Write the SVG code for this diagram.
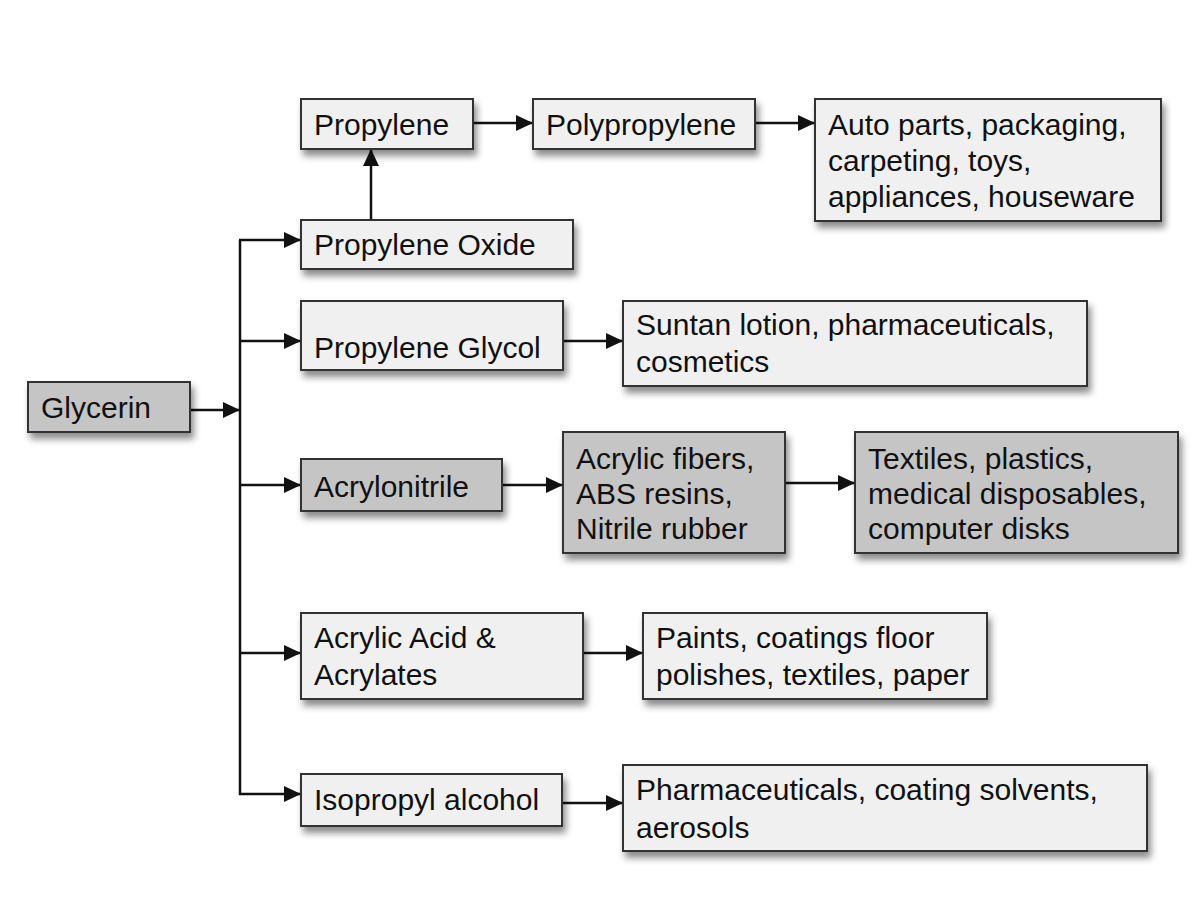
<svg xmlns="http://www.w3.org/2000/svg" width="1204" height="911" viewBox="0 0 1204 911">
<defs>
<filter id="sh" x="-10%" y="-20%" width="130%" height="160%">
<feDropShadow dx="3" dy="6" stdDeviation="3.5" flood-color="#000" flood-opacity="0.45"/>
</filter>
<marker id="ah" markerUnits="userSpaceOnUse" markerWidth="18" markerHeight="16" refX="17" refY="8" orient="auto">
<path d="M0,0 L17,8 L0,16 z" fill="#111"/>
</marker>
<style>
.lt{fill:#f0f0f0;stroke:#333;stroke-width:2;filter:url(#sh)}
.dk{fill:#c5c5c5;stroke:#333;stroke-width:2;filter:url(#sh)}
text{font-family:"Liberation Sans",Arial,sans-serif;font-size:30px;fill:#111}
.c{fill:none;stroke:#111;stroke-width:2.5}
</style>
</defs>
<rect width="1204" height="911" fill="#fff"/>
<g id="connectors">
<line class="c" x1="190" y1="410" x2="240" y2="410" marker-end="url(#ah)"/>
<line class="c" x1="240" y1="240" x2="240" y2="795"/>
<line class="c" x1="239" y1="240" x2="301" y2="240" marker-end="url(#ah)"/>
<line class="c" x1="239" y1="341" x2="301" y2="341" marker-end="url(#ah)"/>
<line class="c" x1="239" y1="485" x2="301" y2="485" marker-end="url(#ah)"/>
<line class="c" x1="239" y1="653" x2="301" y2="653" marker-end="url(#ah)"/>
<line class="c" x1="239" y1="794" x2="301" y2="794" marker-end="url(#ah)"/>
<line class="c" x1="371" y1="220" x2="371" y2="149" marker-end="url(#ah)"/>
<line class="c" x1="473" y1="123" x2="533" y2="123" marker-end="url(#ah)"/>
<line class="c" x1="755" y1="123" x2="815" y2="123" marker-end="url(#ah)"/>
<line class="c" x1="563" y1="341" x2="623" y2="341" marker-end="url(#ah)"/>
<line class="c" x1="502" y1="485" x2="563" y2="485" marker-end="url(#ah)"/>
<line class="c" x1="785" y1="483" x2="855" y2="483" marker-end="url(#ah)"/>
<line class="c" x1="583" y1="653" x2="643" y2="653" marker-end="url(#ah)"/>
<line class="c" x1="562" y1="803" x2="623" y2="803" marker-end="url(#ah)"/>
</g>
<g id="glycerin"><rect class="dk" x="28" y="382" width="162" height="50"/><text x="41" y="418">Glycerin</text></g>
<g id="propylene"><rect class="lt" x="301" y="99" width="172" height="50"/><text x="314" y="135">Propylene</text></g>
<g id="polypropylene"><rect class="lt" x="533" y="99" width="222" height="50"/><text x="546" y="135">Polypropylene</text></g>
<g id="autoparts"><rect class="lt" x="815" y="99" width="346" height="122"/><text x="828" y="135">Auto parts, packaging,</text><text x="828" y="171">carpeting, toys,</text><text x="828" y="207">appliances, houseware</text></g>
<g id="propylene-oxide"><rect class="lt" x="301" y="220" width="272" height="49"/><text x="314" y="255">Propylene Oxide</text></g>
<g id="propylene-glycol"><rect class="lt" x="301" y="301" width="262" height="69"/><text x="314" y="358">Propylene Glycol</text></g>
<g id="suntan"><rect class="lt" x="623" y="301" width="464" height="85"/><text x="636" y="335">Suntan lotion, pharmaceuticals,</text><text x="636" y="372">cosmetics</text></g>
<g id="acrylonitrile"><rect class="dk" x="301" y="459" width="201" height="52"/><text x="314" y="497">Acrylonitrile</text></g>
<g id="acrylic-fibers"><rect class="dk" x="563" y="432" width="222" height="121"/><text x="576" y="469">Acrylic fibers,</text><text x="576" y="504">ABS resins,</text><text x="576" y="539">Nitrile rubber</text></g>
<g id="textiles"><rect class="dk" x="855" y="432" width="323" height="121"/><text x="868" y="469">Textiles, plastics,</text><text x="868" y="504">medical disposables,</text><text x="868" y="539">computer disks</text></g>
<g id="acrylic-acid"><rect class="lt" x="301" y="613" width="282" height="86"/><text x="314" y="648">Acrylic Acid &amp;</text><text x="314" y="685">Acrylates</text></g>
<g id="paints"><rect class="lt" x="643" y="613" width="344" height="86"/><text x="656" y="648">Paints, coatings floor</text><text x="656" y="685">polishes, textiles, paper</text></g>
<g id="isopropyl"><rect class="lt" x="301" y="774" width="261" height="52"/><text x="314" y="810">Isopropyl alcohol</text></g>
<g id="pharma"><rect class="lt" x="623" y="765" width="524" height="86"/><text x="636" y="800">Pharmaceuticals, coating solvents,</text><text x="636" y="838">aerosols</text></g>
</svg>
